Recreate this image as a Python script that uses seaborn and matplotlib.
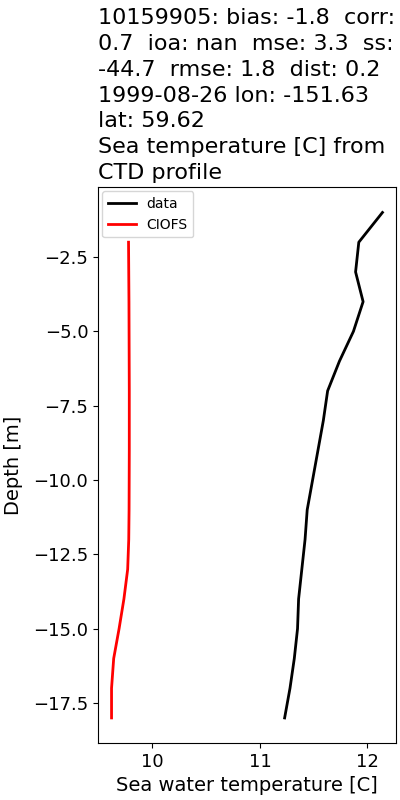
import matplotlib

matplotlib.use("Agg")
import matplotlib.pyplot as plt
import pandas as pd
import seaborn as sns

# CTD profile (data), depth in m
depth = [-1, -2, -3, -4, -5, -6, -7, -8, -9, -10, -11, -12, -13, -14, -15, -16, -17, -18]
data_temp = [12.14, 11.92, 11.89, 11.96, 11.87, 11.74, 11.63, 11.59, 11.54,
             11.49, 11.44, 11.42, 11.39, 11.36, 11.35, 11.32, 11.28, 11.23]

# model (CIOFS) profile, starts below the legend
model_depth = [-2, -3, -4, -5, -6, -7, -8, -9, -10, -11, -12, -13, -14, -15, -16, -17, -18]
ciofs_temp = [9.778, 9.780, 9.782, 9.783, 9.784, 9.785, 9.785, 9.785,
              9.784, 9.783, 9.780, 9.770, 9.735, 9.690, 9.640, 9.620, 9.620]

title = ("10159905: bias: -1.8  corr:\n0.7  ioa: nan  mse: 3.3  ss:\n"
         "-44.7  rmse: 1.8  dist: 0.2\n1999-08-26 lon: -151.63\nlat: 59.62\n"
         "Sea temperature [C] from\nCTD profile")

df = pd.concat([
    pd.DataFrame({"depth": depth, "temp": data_temp, "source": "data"}),
    pd.DataFrame({"depth": model_depth, "temp": ciofs_temp, "source": "CIOFS"}),
])

fig = plt.figure(figsize=(4, 8), dpi=100)
ax = fig.add_axes([0.245, 0.071, 0.745, 0.695])

sns.lineplot(
    data=df,
    x="temp",
    y="depth",
    hue="source",
    palette={"data": "black", "CIOFS": "red"},
    sort=False,
    estimator=None,
    linewidth=2,
    ax=ax,
)

ax.set_title(title, loc="left", fontsize=16, ha="left", linespacing=1.36)
ax.set_xlabel("Sea water temperature [C]", fontsize=14)
ax.set_ylabel("Depth [m]", fontsize=14, labelpad=7)
ax.tick_params(labelsize=13)
ax.legend(loc="upper left", fontsize=10, borderaxespad=0.3)

fig.savefig("out.png", dpi=100)
